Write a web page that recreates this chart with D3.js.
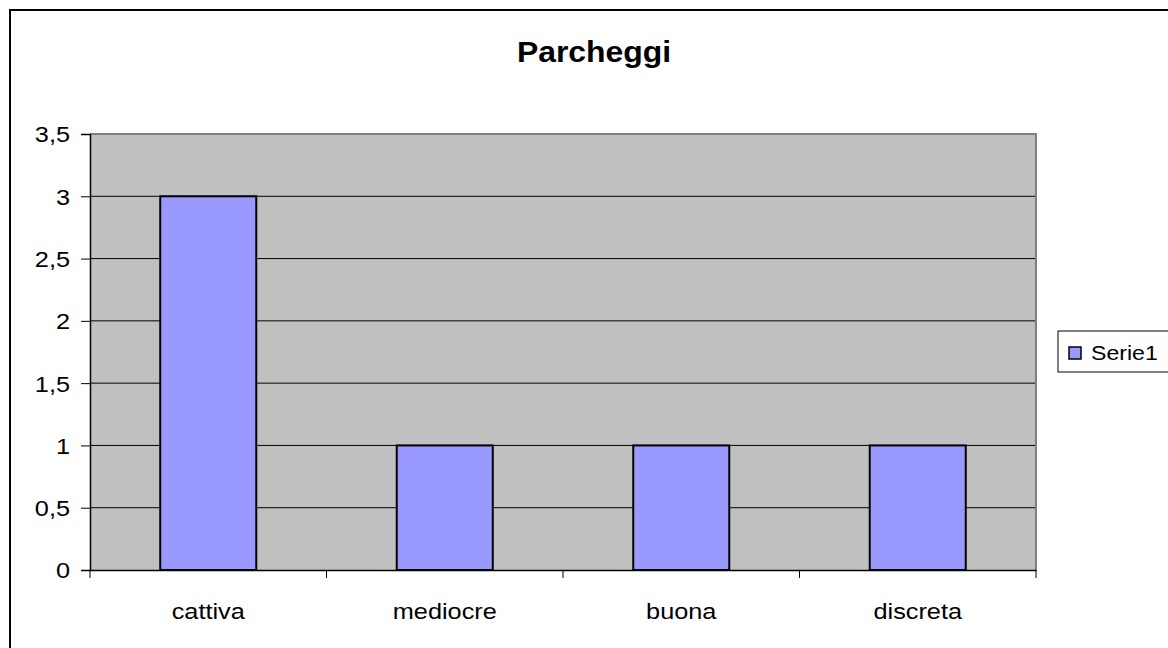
<!DOCTYPE html>
<html>
<head>
<meta charset="utf-8">
<script src="https://cdn.jsdelivr.net/npm/d3@7"></script>
<style>
  html, body { margin:0; padding:0; background:#fff; }
  svg { display:block; font-family: "Liberation Sans", Arial, sans-serif; }
</style>
</head>
<body>
<svg width="1168" height="648"></svg>
<script>
const categories = ['cattiva', 'mediocre', 'buona', 'discreta'];
const values = [3, 1, 1, 1];
const yTicks = [0, 0.5, 1, 1.5, 2, 2.5, 3, 3.5];
const seriesName = 'Serie1';
const title = 'Parcheggi';

const svg = d3.select('svg');
const margin = { top: 134, left: 90, right: 1036, bottom: 570 };
const sx = 1.15; // text in the original is a bit stretched horizontally
const fmt = d => String(d).replace('.', ',');

// outer chart border (runs off the right and bottom)
svg.append('rect')
    .attr('x', 10).attr('y', 10).attr('width', 1175).attr('height', 660)
    .attr('fill', '#fff').attr('stroke', '#000').attr('stroke-width', 2);

const xscale = d3.scaleBand().domain(categories).range([margin.left, margin.right]);
const yscale = d3.scaleLinear().domain([0, 3.5]).range([margin.bottom, margin.top]);

// plot background
svg.append('rect')
    .attr('x', margin.left).attr('y', margin.top)
    .attr('width', margin.right - margin.left).attr('height', margin.bottom - margin.top)
    .attr('fill', '#c0c0c0');

// gridlines
svg.append('g').selectAll('line').data(yTicks.filter(t => t > 0 && t < 3.5))
    .enter().append('line')
        .attr('x1', margin.left).attr('x2', margin.right)
        .attr('y1', d => yscale(d)).attr('y2', d => yscale(d))
        .attr('stroke', '#000').attr('stroke-width', 1);

// plot border top/right
svg.append('path')
    .attr('d', `M${margin.left},${margin.top}H${margin.right}V${margin.bottom}`)
    .attr('fill', 'none').attr('stroke', '#808080').attr('stroke-width', 2);

// bars
const barW = xscale.bandwidth() * 0.406;
svg.append('g').selectAll('rect').data(values)
    .enter().append('rect')
        .attr('x', (d, i) => xscale(categories[i]) + xscale.bandwidth() / 2 - barW / 2)
        .attr('y', d => yscale(d))
        .attr('width', barW)
        .attr('height', d => yscale(0) - yscale(d))
        .attr('fill', '#9999ff').attr('stroke', '#000').attr('stroke-width', 2);

// y axis
const yAxis = svg.append('g')
    .attr('transform', `translate(${margin.left},0)`)
    .call(d3.axisLeft(yscale).tickValues(yTicks).tickSize(9).tickFormat(fmt));
yAxis.select('.domain').attr('stroke', '#000').attr('stroke-width', 1.5);
yAxis.selectAll('.tick line').attr('stroke', '#000');
yAxis.selectAll('.tick text')
    .attr('font-size', 22).attr('fill', '#000')
    .attr('font-family', '"Liberation Sans", Arial, sans-serif')
    .attr('x', 0).attr('dy', '0.36em')
    .attr('transform', `translate(-20,0) scale(${sx},1)`);

// x axis
const xAxis = svg.append('g')
    .attr('transform', `translate(0,${margin.bottom})`)
    .call(d3.axisBottom(xscale).tickSize(0).tickFormat(''));
xAxis.select('.domain').attr('stroke', '#000').attr('stroke-width', 1.5);
xAxis.selectAll('.tick').remove();
const edges = categories.map(c => xscale(c)).concat([margin.right]);
xAxis.selectAll('line.edge').data(edges)
    .enter().append('line').attr('class', 'edge')
        .attr('x1', d => d).attr('x2', d => d)
        .attr('y1', 0).attr('y2', 8)
        .attr('stroke', '#000').attr('stroke-width', 1);

svg.append('g').selectAll('text').data(categories)
    .enter().append('text')
        .attr('transform', d => `translate(${xscale(d) + xscale.bandwidth() / 2},619) scale(${sx},1)`)
        .attr('text-anchor', 'middle').attr('font-size', 22)
        .text(d => d);

// title
svg.append('text')
    .attr('transform', `translate(594,62) scale(1.1,1)`)
    .attr('text-anchor', 'middle').attr('font-size', 29).attr('font-weight', 'bold')
    .text(title);

// legend
const lg = svg.append('g').attr('transform', 'translate(1058,331)');
lg.append('rect').attr('width', 130).attr('height', 41)
    .attr('fill', '#fff').attr('stroke', '#000').attr('stroke-width', 1);
lg.append('rect').attr('x', 11).attr('y', 16).attr('width', 12).attr('height', 12)
    .attr('fill', '#9999ff').attr('stroke', '#000').attr('stroke-width', 1.5);
lg.append('text')
    .attr('transform', `translate(33,29) scale(1.1,1)`)
    .attr('font-size', 21)
    .text(seriesName);
</script>
</body>
</html>
